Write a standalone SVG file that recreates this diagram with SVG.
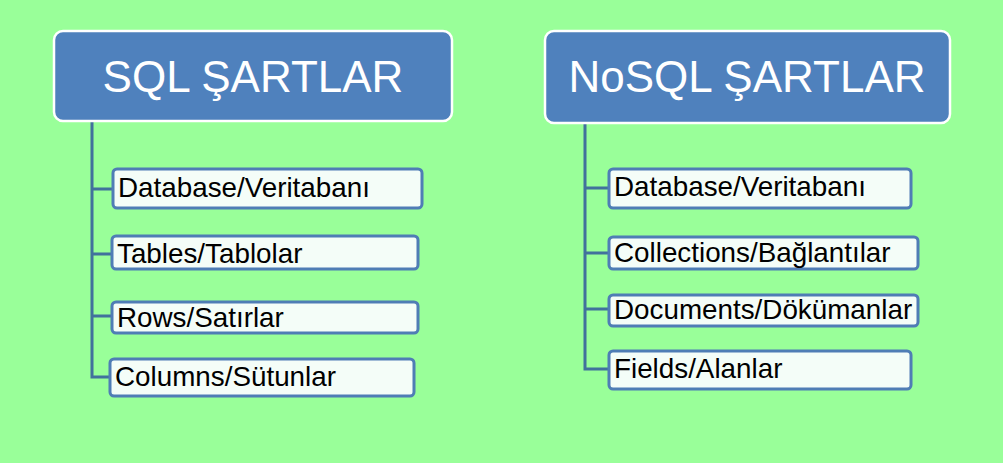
<svg xmlns="http://www.w3.org/2000/svg" width="1003" height="463" viewBox="0 0 1003 463">
<style>
.hdr{fill:#4F81BD;stroke:#FFFFFF;stroke-width:2.5}
.hdrt{fill:#FFFFFF;font-family:"Liberation Sans",Arial,sans-serif;font-size:44px;text-anchor:middle}
.box{fill:#F4FDF8;stroke:#4F7DB5;stroke-width:3}
.bt{fill:#000000;font-family:"Liberation Sans",Arial,sans-serif;font-size:27.8px}
.con{fill:none;stroke:#41719C;stroke-width:3}
</style>
<rect width="1003" height="463" fill="#99FF99"/>
<g id="connectors">
<path class="con" d="M92 121 V377 H111 M92 189 H113 M92 254 H112 M92 316 H112"/>
<path class="con" d="M585 123 V369 H609 M585 188 H609 M585 253 H609 M585 309 H609"/>
</g>
<g id="sql-header">
<rect class="hdr" x="54" y="31" width="398" height="90" rx="9"/>
<text class="hdrt" x="253" y="92">SQL ŞARTLAR</text>
</g>
<g id="sql-database">
<rect class="box" x="113" y="169" width="309" height="39" rx="4"/>
<text class="bt" x="118" y="197">Database/Veritabanı</text>
</g>
<g id="sql-tables">
<rect class="box" x="112" y="236" width="306" height="33" rx="4"/>
<text class="bt" x="117" y="263">Tables/Tablolar</text>
</g>
<g id="sql-rows">
<rect class="box" x="112" y="302" width="306" height="31" rx="4"/>
<text class="bt" x="117" y="327">Rows/Satırlar</text>
</g>
<g id="sql-columns">
<rect class="box" x="110" y="359" width="304" height="37" rx="4"/>
<text class="bt" x="115" y="386">Columns/Sütunlar</text>
</g>
<g id="nosql-header">
<rect class="hdr" x="545" y="31" width="405" height="92" rx="9"/>
<text class="hdrt" x="747" y="92">NoSQL ŞARTLAR</text>
</g>
<g id="nosql-database">
<rect class="box" x="609" y="169" width="302" height="39" rx="4"/>
<text class="bt" x="614" y="196">Database/Veritabanı</text>
</g>
<g id="nosql-collections">
<rect class="box" x="609" y="237" width="309" height="32" rx="4"/>
<text class="bt" x="614" y="262">Collections/Bağlantılar</text>
</g>
<g id="nosql-documents">
<rect class="box" x="609" y="295" width="309" height="31" rx="4"/>
<text class="bt" x="614" y="319">Documents/Dökümanlar</text>
</g>
<g id="nosql-fields">
<rect class="box" x="609" y="351" width="302" height="38" rx="4"/>
<text class="bt" x="614" y="378">Fields/Alanlar</text>
</g>
</svg>
